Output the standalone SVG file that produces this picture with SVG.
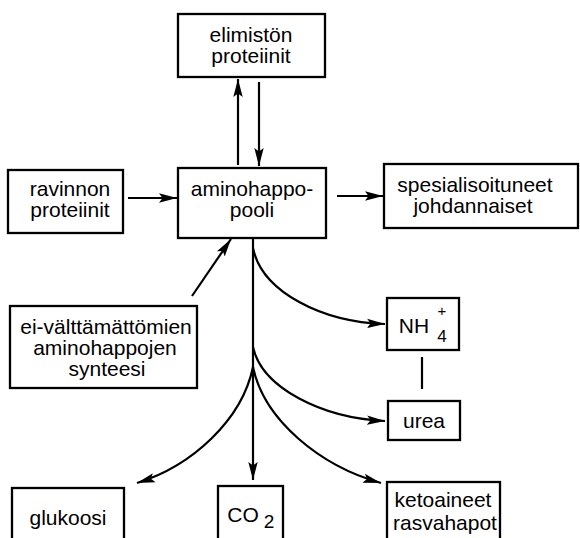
<svg xmlns="http://www.w3.org/2000/svg" width="580" height="538" viewBox="0 0 580 538">
<style>
.box{fill:#fff;stroke:#000;stroke-width:2.3}
.t{font-family:"Liberation Sans",Arial,sans-serif;font-size:21px;fill:#000;text-anchor:middle}
.c{fill:none;stroke:#000;stroke-width:2.2}
</style>
<defs>
<marker id="ah" markerUnits="userSpaceOnUse" markerWidth="20" markerHeight="12" refX="18" refY="6" orient="auto">
<path d="M0,1.3 L18,6 L0,10.7 L3.5,6 Z" fill="#000"/>
</marker>
</defs>
<rect width="580" height="538" fill="#fff"/>
<g id="connectors">
<line class="c" x1="238" y1="165" x2="238" y2="79" marker-end="url(#ah)"/>
<line class="c" x1="259" y1="82" x2="259" y2="166" marker-end="url(#ah)"/>
<line class="c" x1="128" y1="198" x2="177" y2="198" marker-end="url(#ah)"/>
<line class="c" x1="337" y1="196" x2="383" y2="196" marker-end="url(#ah)"/>
<line class="c" x1="192" y1="296" x2="231" y2="239" marker-end="url(#ah)"/>
<line class="c" x1="253" y1="238" x2="253" y2="480" marker-end="url(#ah)"/>
<path class="c" d="M253,248 C262,292 322,322 385,324" marker-end="url(#ah)"/>
<path class="c" d="M253,347 C262,388 322,418 385,421" marker-end="url(#ah)"/>
<path class="c" d="M253,367 C242,420 192,466 137,483" marker-end="url(#ah)"/>
<path class="c" d="M253,367 C264,420 320,466 381,483" marker-end="url(#ah)"/>
<line class="c" x1="422" y1="357" x2="422" y2="389"/>
</g>
<g id="elimiston">
<rect class="box" x="178" y="14" width="147" height="63"/>
<text class="t" x="251" y="42">elimistön</text>
<text class="t" x="251" y="63">proteiinit</text>
</g>
<g id="aminohappopooli">
<rect class="box" x="178" y="168" width="148" height="70"/>
<text class="t" x="252" y="196">aminohappo-</text>
<text class="t" x="252" y="217">pooli</text>
</g>
<g id="ravinnon">
<rect class="box" x="8" y="170" width="115" height="63"/>
<text class="t" x="70" y="196">ravinnon</text>
<text class="t" x="70" y="217">proteiinit</text>
</g>
<g id="spesialisoituneet">
<rect class="box" x="384" y="164" width="194" height="64"/>
<text class="t" x="475" y="192">spesialisoituneet</text>
<text class="t" x="473" y="213">johdannaiset</text>
</g>
<g id="synteesi">
<rect class="box" x="10" y="306" width="187" height="82"/>
<text class="t" x="106" y="334">ei-välttämättömien</text>
<text class="t" x="105" y="355">aminohappojen</text>
<text class="t" x="107" y="376">synteesi</text>
</g>
<g id="nh4">
<rect class="box" x="387" y="298" width="72" height="52"/>
<text class="t" x="414" y="333">NH</text>
<text class="t" x="442" y="316" style="font-size:15px">+</text>
<text class="t" x="442" y="342" style="font-size:17px">4</text>
</g>
<g id="urea">
<rect class="box" x="388" y="401" width="72" height="39"/>
<text class="t" x="424" y="428">urea</text>
</g>
<g id="glukoosi">
<rect class="box" x="12" y="488" width="112" height="56"/>
<text class="t" x="68" y="525">glukoosi</text>
</g>
<g id="co2">
<rect class="box" x="218" y="486" width="65" height="58"/>
<text class="t" x="243" y="522">CO</text>
<text class="t" x="269" y="528" style="font-size:19px">2</text>
</g>
<g id="ketoaineet">
<rect class="box" x="387" y="482" width="113" height="62"/>
<text class="t" x="443" y="507">ketoaineet</text>
<text class="t" x="445" y="530">rasvahapot</text>
</g>
</svg>
